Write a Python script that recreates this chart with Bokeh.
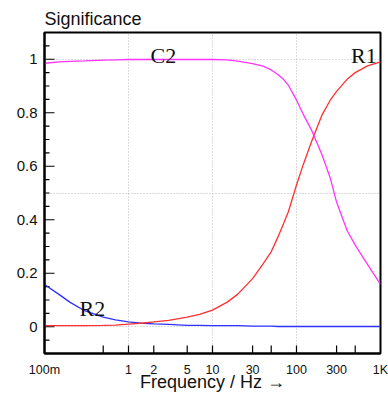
import math
from bokeh.plotting import figure
from bokeh.models import FixedTicker, Label
from bokeh.embed import file_html
from bokeh.resources import INLINE

freq = [0.1, 0.15, 0.2, 0.3, 0.5, 0.7, 1, 1.5, 2, 3, 5, 7, 10, 15, 20, 30, 40, 50, 60, 70, 80, 100, 120, 150, 200, 250, 300, 400, 500, 700, 1000]
c2 = [0.985, 0.99, 0.992, 0.994, 0.997, 0.998, 0.999, 0.999, 0.999, 0.999, 0.999, 0.999, 0.999, 0.998, 0.993, 0.984, 0.974, 0.96, 0.943, 0.925, 0.903, 0.847, 0.795, 0.737, 0.645, 0.56, 0.466, 0.36, 0.305, 0.233, 0.158]
r1 = [0.004, 0.004, 0.004, 0.004, 0.005, 0.006, 0.01, 0.014, 0.018, 0.024, 0.036, 0.046, 0.062, 0.092, 0.122, 0.18, 0.235, 0.28, 0.335, 0.385, 0.43, 0.53, 0.605, 0.69, 0.79, 0.845, 0.88, 0.925, 0.95, 0.975, 0.99]
r2 = [0.158, 0.12, 0.092, 0.06, 0.036, 0.026, 0.018, 0.013, 0.011, 0.009, 0.005, 0.005, 0.004, 0.004, 0.004, 0.002, 0.002, 0.002, 0.001, 0.001, 0.001, 0.001, 0.001, 0.001, 0.001, 0.001, 0.001, 0.001, 0.001, 0.001, 0.001]

x_ticks = [0.1, 0.5, 1, 2, 5, 10, 30, 50, 100, 300, 500, 1000]
x_tick_labels = {0.1: "100m", 0.5: "", 1: "1", 2: "2", 5: "5", 10: "10", 30: "30", 50: "", 100: "100", 300: "300", 500: "", 1000: "1K"}
y_ticks = [0, 0.2, 0.4, 0.6, 0.8, 1]
y_minor = [round(-0.1 + 0.05 * i, 2) for i in range(25)]

X_MIN, X_MAX, Y_MIN, Y_MAX = 0.1, 1000, -0.1, 1.1
FRAME_W, FRAME_H = 336, 321
PX_PER_DEC = FRAME_W / math.log10(X_MAX / X_MIN)
PX_PER_UNIT = FRAME_H / (Y_MAX - Y_MIN)

p = figure(width=388, height=394, x_axis_type="log", x_range=(X_MIN, X_MAX), y_range=(Y_MIN, Y_MAX),
           output_backend="svg", toolbar_location=None,
           min_border_left=44, min_border_right=8, min_border_top=32, min_border_bottom=41)

p.title.text = "Significance"
p.title.align = "left"
p.title.text_font = "Liberation Sans"
p.title.text_font_size = "18px"
p.title.text_font_style = "normal"
p.title.text_color = "#111111"
p.title.standoff = 8
p.title.offset = 0

p.outline_line_color = "black"
p.outline_line_width = 2
p.background_fill_color = "white"
p.border_fill_color = "white"

xa = p.xaxis[0]
xa.ticker = FixedTicker(ticks=x_ticks, minor_ticks=[])
xa.major_label_overrides = x_tick_labels
xa.major_tick_in = 0
xa.major_tick_out = 0
xa.minor_tick_line_color = None
xa.axis_line_width = 2
xa.axis_line_color = "black"
xa.major_label_text_font = "Liberation Sans"
xa.major_label_text_font_size = "12.5px"
xa.major_label_text_color = "#111111"
xa.major_label_standoff = 9
xa.axis_label = "Frequency / Hz \u2192"
xa.axis_label_text_font = "Liberation Sans"
xa.axis_label_text_font_size = "18px"
xa.axis_label_text_font_style = "normal"
xa.axis_label_text_color = "#111111"
xa.axis_label_standoff = -8

ya = p.yaxis[0]
ya.ticker = FixedTicker(ticks=y_ticks, minor_ticks=y_minor)
ya.major_tick_in = 0
ya.major_tick_out = 0
ya.minor_tick_in = 0
ya.minor_tick_out = 0
ya.axis_line_width = 2
ya.axis_line_color = "black"
ya.major_label_text_font = "Liberation Sans"
ya.major_label_text_font_size = "15px"
ya.major_label_text_color = "#111111"
ya.major_label_standoff = 7

p.xgrid.ticker = FixedTicker(ticks=[1, 10, 100])
p.ygrid.ticker = FixedTicker(ticks=[0, 0.5, 1])
for g in (p.xgrid[0], p.ygrid[0]):
    g.grid_line_color = "#b8b8b8"
    g.grid_line_dash = "1 2"
    g.grid_line_width = 1

# inward tick marks drawn as short segments from the frame edges
def x_in(px):
    return X_MIN * 10 ** (px / PX_PER_DEC)

def y_in(px):
    return Y_MIN + px / PX_PER_UNIT

inner_x = [t for t in x_ticks if X_MIN < t < X_MAX]
p.segment(x0=inner_x, y0=[Y_MIN] * len(inner_x), x1=inner_x, y1=[y_in(8)] * len(inner_x),
          line_color="black", line_width=1.2)
p.segment(x0=[X_MIN] * len(y_ticks), y0=y_ticks, x1=[x_in(10)] * len(y_ticks), y1=y_ticks,
          line_color="black", line_width=1.2)
minor_only = [t for t in y_minor if t not in y_ticks and Y_MIN < t < Y_MAX]
p.segment(x0=[X_MIN] * len(minor_only), y0=minor_only, x1=[x_in(5)] * len(minor_only), y1=minor_only,
          line_color="black", line_width=1.2)

p.line(freq, r2, line_color="#3030ff", line_width=1.3)
p.line(freq, r1, line_color="#ff3030", line_width=1.3)
p.line(freq, c2, line_color="#ff33ff", line_width=1.3)

for txt, x, y, align in [("C2", 1.83, 1.015, "left"), ("R1", 900, 1.013, "right"), ("R2", 0.261, 0.07, "left")]:
    p.add_layout(Label(x=x, y=y, text=txt, text_font="Liberation Serif", text_font_size="22px",
                       text_color="#111111", text_align=align, text_baseline="alphabetic"))

open("out.html", "w").write(file_html(p, INLINE))
